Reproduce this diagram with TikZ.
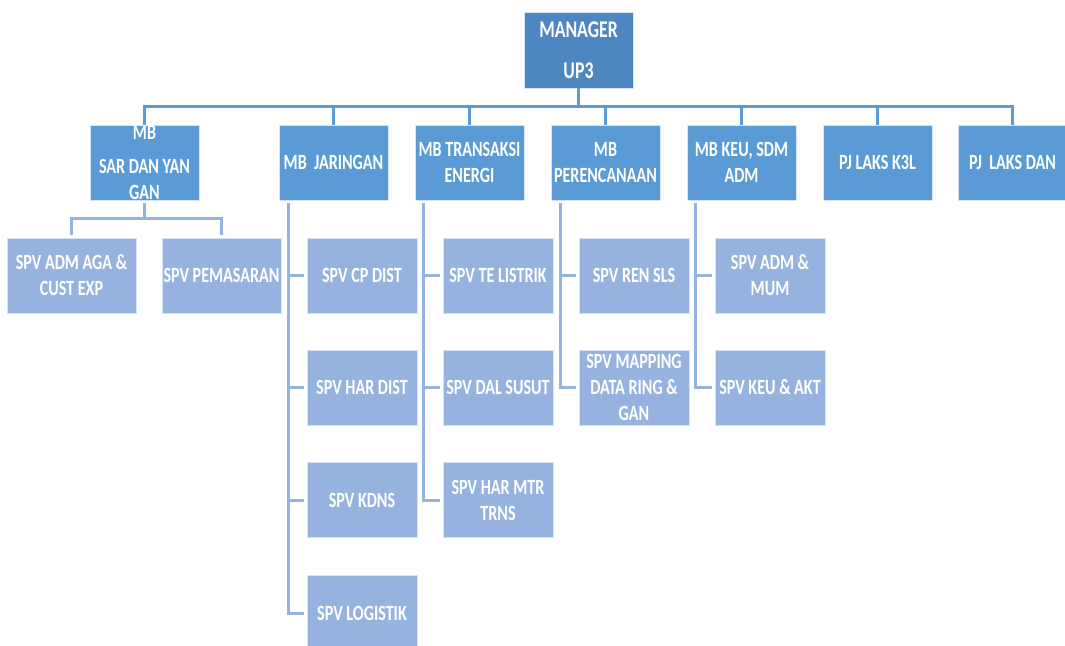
\documentclass[tikz,border=0pt]{standalone}
\usepackage{fontspec}
\setmainfont{Carlito}[FakeStretch=0.74]
\usepackage{tikz}
\usetikzlibrary{calc}
\definecolor{bosscol}{HTML}{4E86C1}
\definecolor{mbcol}{HTML}{5B9BD5}
\definecolor{spvcol}{HTML}{95B3DE}
\definecolor{rim}{HTML}{D6E4F3}

\tikzset{
  unit/.style={draw=rim,line width=0.6pt,text=white,inner sep=0pt,align=center,
    font=\bfseries\fontsize{16.3pt}{19.5pt}\selectfont},
  headbox/.style={unit,fill=bosscol,minimum width=81.75pt,minimum height=57pt,
    font=\bfseries\fontsize{18pt}{21.5pt}\selectfont},
  mbbox/.style={unit,fill=mbcol,minimum width=81.75pt,minimum height=56.25pt},
  spvbox/.style={unit,fill=spvcol,minimum width=82.5pt,minimum height=56.25pt},
  bus/.style={draw=mbcol,line width=2.25pt},
  link/.style={draw=spvcol,line width=2.25pt,shorten <=2.25pt,shorten >=2.25pt}
}

\begin{document}
\begin{tikzpicture}[x=0.75pt,y=-0.75pt]
  \useasboundingbox (0,0) rectangle (1065,646);
  % top
  \node[headbox] (mgr) at (578.5,50) {MANAGER\\[9.25pt]UP3};
  % managers of the fields
  \node[mbbox] (sar) at (144.5,162.5) {MB\\[6pt]SAR DAN YAN\\GAN};
  \node[mbbox] (jar) at (333.5,162.5) {MB~~JARINGAN};
  \node[mbbox] (trx) at (469.5,162.5) {MB TRANSAKSI\\ENERGI};
  \node[mbbox] (ren) at (605.5,162.5) {MB\\PERENCANAAN};
  \node[mbbox] (keu) at (741.5,162.5) {MB KEU, SDM\\ADM};
  \node[mbbox] (k3l) at (877.5,162.5) {PJ LAKS K3L};
  \node[mbbox] (dan) at (1012.5,162.5) {PJ~~LAKS DAN};
  \foreach \n in {sar,jar,trx,ren,keu,k3l,dan}
    \draw[bus] (mgr.south) -- ++(0,18) -| (\n.north);
  % supervisors
  \node[spvbox,minimum width=96.75pt] (aga) at (71.5,275.5) {SPV ADM AGA \&\\CUST EXP};
  \node[spvbox,minimum width=89.25pt] (pem) at (221.5,275.5) {SPV PEMASARAN};
  \node[spvbox] (cpd) at (362,275.5) {SPV CP DIST};
  \node[spvbox] (hrd) at (362,387.5) {SPV HAR DIST};
  \node[spvbox] (kdn) at (362,500) {SPV KDNS};
  \node[spvbox] (log) at (362,613) {SPV LOGISTIK};
  \node[spvbox] (tel) at (498,275.5) {SPV TE LISTRIK};
  \node[spvbox] (dal) at (498,387.5) {SPV DAL SUSUT};
  \node[spvbox] (mtr) at (498,500) {SPV HAR MTR\\TRNS};
  \node[spvbox] (sls) at (634,275.5) {SPV REN SLS};
  \node[spvbox] (map) at (634,387.5) {SPV MAPPING\\DATA RING \&\\GAN};
  \node[spvbox] (mum) at (770,275.5) {SPV ADM \&\\MUM};
  \node[spvbox] (akt) at (770,387.5) {SPV KEU \& AKT};
  \draw[link] (sar.south) -- ++(0,18) -| (aga.north);
  \draw[link] (sar.south) -- ++(0,18) -| (pem.north);
  \foreach \n in {cpd,hrd,kdn,log}
    \draw[link] ([xshift=7.5pt]jar.south west) |- (\n.west);
  \foreach \n in {tel,dal,mtr}
    \draw[link] ([xshift=7pt]trx.south west) |- (\n.west);
  \foreach \n in {sls,map}
    \draw[link] ([xshift=7.5pt]ren.south west) |- (\n.west);
  \foreach \n in {mum,akt}
    \draw[link] ([xshift=7pt]keu.south west) |- (\n.west);
\end{tikzpicture}
\end{document}
